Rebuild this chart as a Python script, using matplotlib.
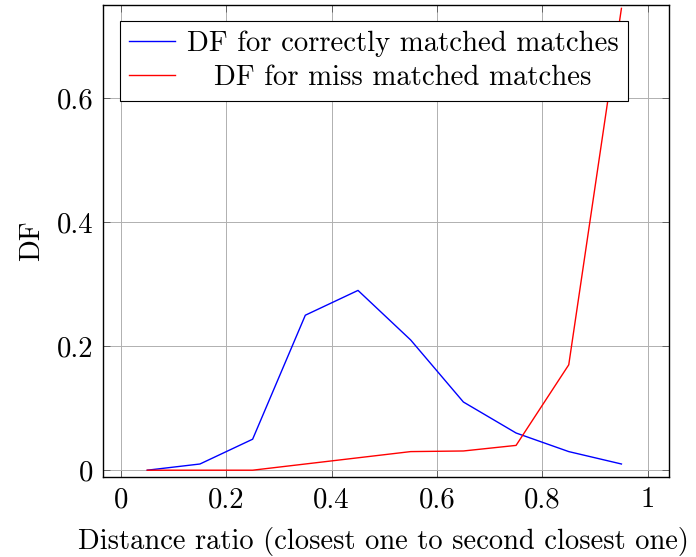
import numpy as np
import matplotlib.pyplot as plt

# distance ratio bins (bin centres)
ratio = [0.05, 0.15, 0.25, 0.35, 0.45, 0.55, 0.65, 0.75, 0.85, 0.95]
df_correct = [0.0, 0.01, 0.05, 0.25, 0.29, 0.21, 0.11, 0.06, 0.03, 0.01]
df_miss = [0.0, 0.0, 0.0, 0.01, 0.02, 0.03, 0.031, 0.04, 0.17, 0.745]

xticks = [0, 0.2, 0.4, 0.6, 0.8, 1]
xtick_labels = ['0', '0.2', '0.4', '0.6', '0.8', '1']
yticks = [0, 0.2, 0.4, 0.6]
ytick_labels = ['0', '0.2', '0.4', '0.6']

plt.rcParams['font.family'] = ['cmr10', 'DejaVu Serif']
plt.rcParams['axes.unicode_minus'] = False

fig = plt.figure(figsize=(6.96, 5.57), dpi=100)
ax = fig.add_axes([0.148, 0.1436, 0.813, 0.847])

ax.plot(ratio, df_correct, color='blue', lw=1.0, label='DF for correctly matched matches')
ax.plot(ratio, df_miss, color='red', lw=1.0, label='DF for miss matched matches')

ax.set_xlim(-0.034, 1.04)
ax.set_ylim(-0.011, 0.75)
ax.set_xticks(xticks)
ax.set_xticklabels(xtick_labels)
ax.set_yticks(yticks)
ax.set_yticklabels(ytick_labels)
ax.grid(True, color='#b0b0b0', lw=0.7)
ax.set_axisbelow(True)
ax.tick_params(direction='in', length=5, width=0.6, labelsize=20.7, top=True, right=True, pad=7, color='#555555')
for s in ax.spines.values():
    s.set_linewidth(1.0)

ax.set_xlabel('Distance ratio (closest one to second closest one)', fontsize=20.5, labelpad=10)
ax.xaxis.set_label_coords(0.495, -0.105)
ax.set_ylabel('DF', fontsize=20.7, labelpad=8)

leg = ax.legend(loc='upper left', bbox_to_anchor=(0.03, 0.967), fontsize=20.7, fancybox=False,
                framealpha=1, edgecolor='black', handlelength=1.6, borderpad=0.33,
                labelspacing=0.28, handletextpad=0.4, borderaxespad=0)
leg.get_frame().set_linewidth(0.8)

# centre the legend entries like pgfplots does
fig.canvas.draw()
r = fig.canvas.get_renderer()
texts = leg.get_texts()
w0 = texts[0].get_window_extent(r).width
w1 = texts[1].get_window_extent(r).width
texts[1].set_x((w0 - w1) / 2)

fig.savefig('out.png', dpi=100)
